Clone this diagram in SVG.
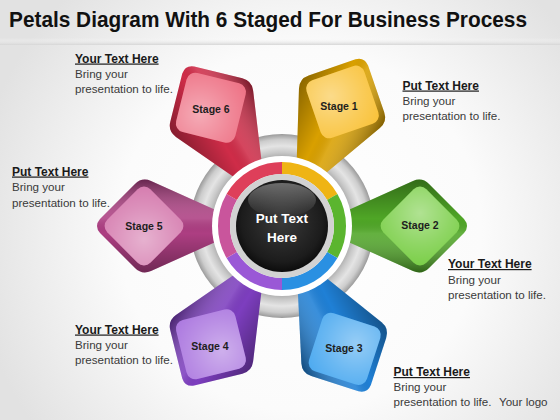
<svg xmlns="http://www.w3.org/2000/svg" xmlns:xlink="http://www.w3.org/1999/xlink" width="560" height="420" viewBox="0 0 560 420">
<defs>
  <radialGradient id="bg" cx="300" cy="230" r="330" gradientUnits="userSpaceOnUse">
    <stop offset="0" stop-color="#ffffff"/>
    <stop offset="0.55" stop-color="#fbfbfb"/>
    <stop offset="1" stop-color="#e2e2e2"/>
  </radialGradient>
  <linearGradient id="band" x1="0" y1="0" x2="0" y2="1">
    <stop offset="0" stop-color="#ffffff" stop-opacity="0"/>
    <stop offset="1" stop-color="#d6d6d6"/>
  </linearGradient>
  <radialGradient id="ring" cx="282" cy="226" r="92" gradientUnits="userSpaceOnUse">
    <stop offset="0.74" stop-color="#a9a9a9"/>
    <stop offset="0.8" stop-color="#c8c8c8"/>
    <stop offset="0.87" stop-color="#e4e4e4"/>
    <stop offset="0.94" stop-color="#cdcdcd"/>
    <stop offset="1" stop-color="#9a9a9a"/>
  </radialGradient>
  <linearGradient id="shade" x1="0" y1="0" x2="0" y2="1">
    <stop offset="0" stop-color="#000" stop-opacity="0.35"/>
    <stop offset="0.42" stop-color="#000" stop-opacity="0"/>
    <stop offset="0.58" stop-color="#fff" stop-opacity="0.12"/>
    <stop offset="1" stop-color="#000" stop-opacity="0.4"/>
  </linearGradient>
  <radialGradient id="gloss" cx="0.35" cy="0.35" r="0.85">
    <stop offset="0" stop-color="#fff" stop-opacity="0.4"/>
    <stop offset="0.6" stop-color="#fff" stop-opacity="0.15"/>
    <stop offset="1" stop-color="#fff" stop-opacity="0"/>
  </radialGradient>
  <radialGradient id="core" cx="0.5" cy="0.45" r="0.55">
    <stop offset="0" stop-color="#3a3a3a"/>
    <stop offset="0.8" stop-color="#1c1c1c"/>
    <stop offset="1" stop-color="#0c0c0c"/>
  </radialGradient>
  <linearGradient id="coreHi" x1="0" y1="0" x2="0" y2="1">
    <stop offset="0" stop-color="#fff" stop-opacity="0.35"/>
    <stop offset="1" stop-color="#fff" stop-opacity="0"/>
  </linearGradient>
  <path id="petalBody" d="M62,-14 L131,-45 Q140,-49 147,-42 L182,-7 Q188,0 182,7 L147,42 Q140,49 131,45 L62,14 Z"/>
  <rect id="petalFace" x="-30.5" y="-30.5" width="61" height="61" rx="9" transform="translate(138 0) rotate(45)"/>
  <style>
    .title { font-family: "Liberation Sans", Arial, sans-serif; font-weight: bold; font-size: 21.5px; fill: #111; }
    .hd { font-family: "Liberation Sans", Arial, sans-serif; font-weight: bold; font-size: 12px; fill: #1a1a1a; text-decoration: underline; }
    .bd { font-family: "Liberation Sans", Arial, sans-serif; font-size: 11.6px; fill: #3a3a3a; }
    .stg { font-family: "Liberation Sans", Arial, sans-serif; font-weight: bold; font-size: 10.5px; fill: #1e1e1e; text-anchor: middle; }
    .ctr { font-family: "Liberation Sans", Arial, sans-serif; font-weight: bold; font-size: 13.5px; fill: #ffffff; text-anchor: middle; }
    .yellow .body { fill: #d9a000; } .yellow .face { fill: #f9c33c; }
    .green .body { fill: #4fa626; } .green .face { fill: #7ccf4a; }
    .blue .body { fill: #1f80d6; } .blue .face { fill: #4fabf0; }
    .purple .body { fill: #7d3ebf; } .purple .face { fill: #ad7ae0; }
    .magenta .body { fill: #ad3e82; } .magenta .face { fill: #d67eb0; }
    .red .body { fill: #cf2c48; } .red .face { fill: #ee7386; }
  </style>
</defs>

<rect x="0" y="0" width="560" height="420" fill="url(#bg)"/>
<rect x="0" y="38" width="560" height="7" fill="url(#band)"/>

<text class="title" x="9" y="27" textLength="518" lengthAdjust="spacingAndGlyphs">Petals Diagram With 6 Staged For Business Process</text>

<circle id="outer-ring" cx="282" cy="226" r="92" fill="url(#ring)"/>

<g id="stage1" class="yellow">
  <g transform="translate(282 226) rotate(-64)">
    <use xlink:href="#petalBody" class="body"/>
    <use xlink:href="#petalBody" fill="url(#shade)"/>
    <use xlink:href="#petalFace" class="face"/>
    <use xlink:href="#petalFace" fill="url(#gloss)"/>
  </g>
  <text class="stg" x="339" y="110">Stage 1</text>
</g>
<g id="stage2" class="green">
  <g transform="translate(282 226) rotate(0)">
    <use xlink:href="#petalBody" class="body"/>
    <use xlink:href="#petalBody" fill="url(#shade)"/>
    <use xlink:href="#petalFace" class="face"/>
    <use xlink:href="#petalFace" fill="url(#gloss)"/>
  </g>
  <text class="stg" x="420" y="229">Stage 2</text>
</g>
<g id="stage3" class="blue">
  <g transform="translate(282 226) rotate(63)">
    <use xlink:href="#petalBody" class="body"/>
    <use xlink:href="#petalBody" fill="url(#shade)"/>
    <use xlink:href="#petalFace" class="face"/>
    <use xlink:href="#petalFace" fill="url(#gloss)"/>
  </g>
  <text class="stg" x="344" y="352">Stage 3</text>
</g>
<g id="stage4" class="purple">
  <g transform="translate(282 226) rotate(121)">
    <use xlink:href="#petalBody" class="body"/>
    <use xlink:href="#petalBody" fill="url(#shade)"/>
    <use xlink:href="#petalFace" class="face"/>
    <use xlink:href="#petalFace" fill="url(#gloss)"/>
  </g>
  <text class="stg" x="210" y="350">Stage 4</text>
</g>
<g id="stage5" class="magenta">
  <g transform="translate(282 226) rotate(180)">
    <use xlink:href="#petalBody" class="body"/>
    <use xlink:href="#petalBody" fill="url(#shade)"/>
    <use xlink:href="#petalFace" class="face"/>
    <use xlink:href="#petalFace" fill="url(#gloss)"/>
  </g>
  <text class="stg" x="144" y="230">Stage 5</text>
</g>
<g id="stage6" class="red">
  <g transform="translate(282 226) rotate(-121)">
    <use xlink:href="#petalBody" class="body"/>
    <use xlink:href="#petalBody" fill="url(#shade)"/>
    <use xlink:href="#petalFace" class="face"/>
    <use xlink:href="#petalFace" fill="url(#gloss)"/>
  </g>
  <text class="stg" x="211" y="113">Stage 6</text>
</g>

<g id="hub">
  <circle cx="282" cy="226" r="70" fill="#ffffff"/>
  <path d="M282,162 A64,64 0 0 1 337.43,194 L327.03,200 A52,52 0 0 0 282,174 Z" fill="#efb414"/>
  <path d="M337.43,194 A64,64 0 0 1 337.43,258 L327.03,252 A52,52 0 0 0 327.03,200 Z" fill="#5bb52f"/>
  <path d="M337.43,258 A64,64 0 0 1 282,290 L282,278 A52,52 0 0 0 327.03,252 Z" fill="#2a90e2"/>
  <path d="M282,290 A64,64 0 0 1 226.57,258 L236.97,252 A52,52 0 0 0 282,278 Z" fill="#9a58d6"/>
  <path d="M226.57,258 A64,64 0 0 1 226.57,194 L236.97,200 A52,52 0 0 0 236.97,252 Z" fill="#c9559c"/>
  <path d="M226.57,194 A64,64 0 0 1 282,162 L282,174 A52,52 0 0 0 236.97,200 Z" fill="#de3f5a"/>
  <circle cx="282" cy="226" r="52" fill="#d2d2d2"/>
  <circle cx="282" cy="226" r="46" fill="url(#core)"/>
  <ellipse cx="282" cy="200" rx="34" ry="17" fill="url(#coreHi)"/>
  <text class="ctr" x="282" y="223">Put Text</text>
  <text class="ctr" x="282" y="242">Here</text>
</g>

<g id="note6">
  <text class="hd" x="75" y="62.5">Your Text Here</text>
  <text class="bd" x="75" y="78">Bring your</text>
  <text class="bd" x="75" y="93">presentation to life.</text>
</g>
<g id="note5">
  <text class="hd" x="12" y="175.5">Put Text Here</text>
  <text class="bd" x="12" y="191">Bring your</text>
  <text class="bd" x="12" y="206.5">presentation to life.</text>
</g>
<g id="note1">
  <text class="hd" x="402.5" y="89.5">Put Text Here</text>
  <text class="bd" x="402.5" y="105">Bring your</text>
  <text class="bd" x="402.5" y="120">presentation to life.</text>
</g>
<g id="note2">
  <text class="hd" x="448" y="268">Your Text Here</text>
  <text class="bd" x="448" y="283.5">Bring your</text>
  <text class="bd" x="448" y="298.5">presentation to life.</text>
</g>
<g id="note4">
  <text class="hd" x="75" y="333.5">Your Text Here</text>
  <text class="bd" x="75" y="348.5">Bring your</text>
  <text class="bd" x="75" y="364">presentation to life.</text>
</g>
<g id="note3">
  <text class="hd" x="393.5" y="376">Put Text Here</text>
  <text class="bd" x="393.5" y="391">Bring your</text>
  <text class="bd" x="393.5" y="406">presentation to life.</text>
</g>
<text class="bd" x="499" y="406">Your logo</text>
</svg>
